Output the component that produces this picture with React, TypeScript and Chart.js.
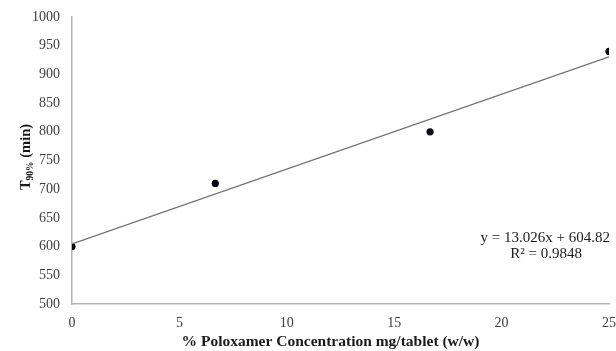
import React, { useEffect, useRef } from "react";
import { Chart, registerables } from "chart.js";

Chart.register(...registerables);

const concentrations = [0, 6.67, 16.67, 25];
const t90Values = [600, 710, 800, 940];
const trendX = [0, 25];
const trendY = [604.82, 930.47];
const equationText = "y = 13.026x + 604.82";
const r2Text = "R\u00B2 = 0.9848";
const xTitle = "% Poloxamer Concentration mg/tablet (w/w)";
const yTitleMain = "T";
const yTitleSub = "90%";
const yTitleRest = " (min)";

const SERIF = "'Liberation Serif', 'Times New Roman', serif";

const textPlugin = {
  id: "customText",
  afterDraw(chart: any) {
    const { ctx, chartArea, scales } = chart;
    const y = scales.y;
    ctx.save();
    // equation annotation
    ctx.fillStyle = "#1a1a1a";
    ctx.font = `15px ${SERIF}`;
    ctx.textBaseline = "middle";
    ctx.textAlign = "right";
    ctx.fillText(equationText, chartArea.right + 1, y.getPixelForValue(615));
    ctx.fillText(r2Text, chartArea.right - 27, y.getPixelForValue(587));

    // x title
    ctx.font = `bold 15.5px ${SERIF}`;
    ctx.textAlign = "center";
    ctx.fillStyle = "#1a1a1a";
    ctx.fillText(xTitle, (chartArea.left + chartArea.right) / 2 - 10, 342);

    // y title with subscript
    ctx.translate(24, 157);
    ctx.rotate(-Math.PI / 2);
    ctx.textAlign = "left";
    ctx.textBaseline = "alphabetic";
    const mainFont = `bold 14.5px ${SERIF}`;
    const subFont = `bold 9.5px ${SERIF}`;
    ctx.font = mainFont;
    const w1 = ctx.measureText(yTitleMain).width;
    const w3 = ctx.measureText(yTitleRest).width;
    ctx.font = subFont;
    const w2 = ctx.measureText(yTitleSub).width;
    const total = w1 + w2 + w3;
    let x = -total / 2;
    ctx.font = mainFont;
    ctx.fillText(yTitleMain, x, 6);
    x += w1;
    ctx.font = subFont;
    ctx.fillText(yTitleSub, x, 9);
    x += w2;
    ctx.font = mainFont;
    ctx.fillText(yTitleRest, x, 6);
    ctx.restore();
  },
};

export default function App() {
  const ref = useRef<HTMLCanvasElement>(null);
  useEffect(() => {
    if (!ref.current) return;
    const chart = new Chart(ref.current, {
      type: "scatter",
      data: {
        datasets: [
          {
            label: "Trend",
            data: trendX.map((x, i) => ({ x, y: trendY[i] })),
            showLine: true,
            borderColor: "#6e6e6e",
            borderWidth: 1.2,
            pointRadius: 0,
            pointHoverRadius: 0,
            fill: false,
          },
          {
            label: "T90%",
            data: concentrations.map((x, i) => ({ x, y: t90Values[i] })),
            backgroundColor: "#050510",
            borderColor: "#050510",
            pointRadius: 3.6,
            pointBorderWidth: 0,
          },
        ],
      },
      options: {
        responsive: false,
        animation: false,
        layout: { padding: { top: 17, right: 7, left: 0, bottom: 0 } },
        plugins: {
          legend: { display: false },
          tooltip: { enabled: false },
        },
        scales: {
          x: {
            type: "linear",
            min: 0,
            max: 25,
            ticks: {
              stepSize: 5,
              padding: 11,
              color: "#404040",
              font: { family: SERIF, size: 14 },
              callback: (v: any) => String(v),
            },
            grid: { display: false, drawTicks: false },
            border: { display: true, color: "#b3b3b3", width: 1.5 },
            afterFit: (s: any) => {
              s.height = 47;
              s.paddingLeft = 0;
              s.paddingRight = 0;
            },
          },
          y: {
            type: "linear",
            min: 500,
            max: 1000,
            ticks: {
              stepSize: 50,
              padding: 12,
              color: "#404040",
              font: { family: SERIF, size: 14 },
              callback: (v: any) => String(v),
            },
            grid: { display: false, drawTicks: false },
            border: { display: true, color: "#b3b3b3", width: 1.5 },
            afterFit: (s: any) => {
              s.width = 72;
              s.paddingTop = 0;
              s.paddingBottom = 0;
            },
          },
        },
      },
      plugins: [textPlugin],
    });
    return () => chart.destroy();
  }, []);
  return (
    <div style={{ position: "absolute", left: 0, top: 0, width: 616, height: 351, background: "#fff" }}>
      <canvas ref={ref} width={616} height={351} style={{ display: "block" }} />
    </div>
  );
}
